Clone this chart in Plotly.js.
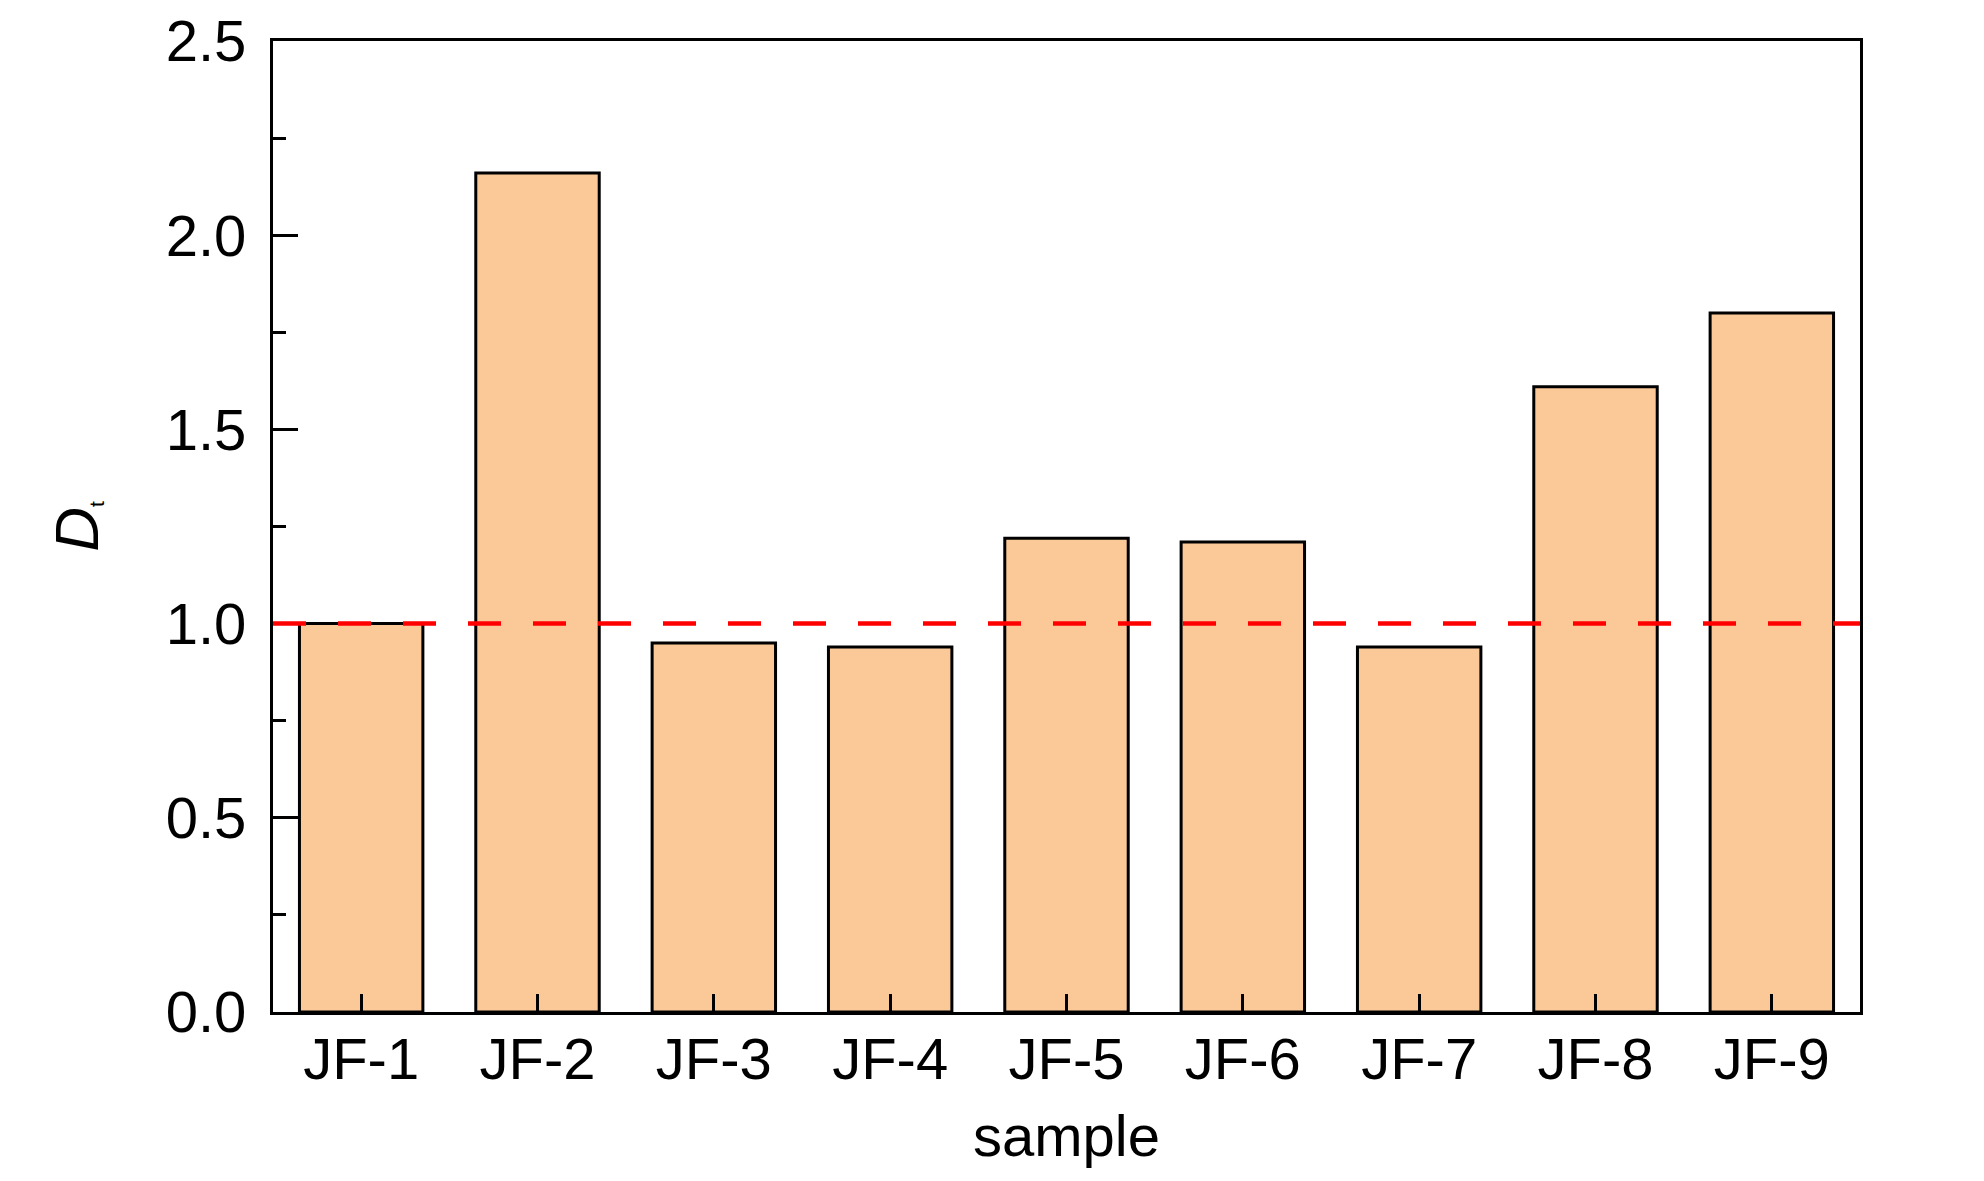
<!DOCTYPE html>
<html>
<head>
<meta charset="utf-8">
<script src="https://cdn.plot.ly/plotly-3.0.1.min.js"></script>
<style>
  html, body { margin: 0; padding: 0; background: #fff; }
  #chart { width: 1984px; height: 1181px; }
</style>
</head>
<body>
<div id="chart"></div>
<script>
const samples = ['JF-1', 'JF-2', 'JF-3', 'JF-4', 'JF-5', 'JF-6', 'JF-7', 'JF-8', 'JF-9'];
const dtValues = [1.00, 2.16, 0.95, 0.94, 1.22, 1.21, 0.94, 1.61, 1.80];
const threshold = 1.0;
const yTicks = [0, 0.5, 1.0, 1.5, 2.0, 2.5];

const font = '"Liberation Sans", Arial, sans-serif';
const fs = 58;

document.addEventListener("DOMContentLoaded", function () {
    let chart = document.getElementById("chart");

    Plotly.newPlot(chart, [{
        x: samples,
        y: dtValues,
        type: 'bar',
        width: 0.7,
        marker: {
            color: '#fbc898',
            line: { color: '#000', width: 3 }
        },
        hoverinfo: 'x+y'
    }], {
        width: 1984,
        height: 1181,
        margin: { l: 273, r: 124, t: 41, b: 169 },
        paper_bgcolor: '#fff',
        plot_bgcolor: '#fff',
        font: { family: font, size: fs, color: '#000' },
        showlegend: false,
        bargap: 0.3,
        xaxis: {
            type: 'category',
            range: [-0.5, samples.length - 0.5],
            showline: true,
            linecolor: '#000',
            linewidth: 3,
            mirror: true,
            showgrid: false,
            zeroline: false,
            ticks: 'inside',
            ticklen: 18,
            tickwidth: 3,
            tickcolor: '#000',
            ticklabelstandoff: -6,
            tickfont: { family: font, size: fs },
            title: { text: 'sample', font: { family: font, size: fs }, standoff: 26 }
        },
        yaxis: {
            range: [0, 2.5],
            tickvals: yTicks,
            ticktext: yTicks.map(v => v.toFixed(1)),
            showline: true,
            linecolor: '#000',
            linewidth: 3,
            mirror: true,
            showgrid: false,
            zeroline: false,
            ticks: 'inside',
            ticklen: 25,
            tickwidth: 3,
            tickcolor: '#000',
            ticklabelstandoff: 12,
            tickfont: { family: font, size: fs },
            minor: { ticks: 'inside', dtick: 0.25, ticklen: 13, tickwidth: 3, tickcolor: '#000', showgrid: false },
            title: { text: '<i>D</i><span style="font-size:30px"><sub>t</sub></span>', font: { family: font, size: 62 }, standoff: 48 }
        },
        shapes: [{
            type: 'line',
            xref: 'paper', x0: 0, x1: 1,
            yref: 'y', y0: threshold, y1: threshold,
            line: { color: '#ff0000', width: 4.5, dash: '33px,32px' },
            layer: 'above'
        }]
    }, { displayModeBar: false, staticPlot: true });
});
</script>
</body>
</html>
